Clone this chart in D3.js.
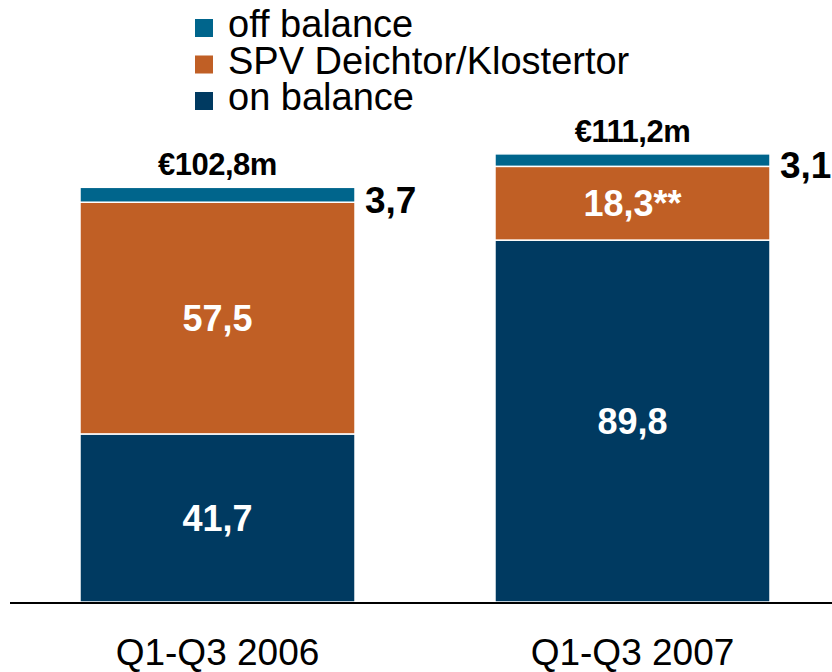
<!DOCTYPE html>
<html>
<head>
<meta charset="utf-8">
<script src="https://cdn.jsdelivr.net/npm/d3@7"></script>
<style>
  html, body { margin: 0; padding: 0; background: #fff; }
  svg { display: block; font-family: "Liberation Sans", Arial, sans-serif; }
</style>
</head>
<body>
<div id="chart"></div>
<script>
// data
const periods = ["Q1-Q3 2006", "Q1-Q3 2007"];
const onBalance = [41.7, 89.8];
const spv = [57.5, 18.3];
const offBalance = [3.7, 3.1];
const totalLabels = ["€102,8m", "€111,2m"];
const onLabels = ["41,7", "89,8"];
const spvLabels = ["57,5", "18,3**"];
const offLabels = ["3,7", "3,1"];
const seriesNames = ["off balance", "SPV Deichtor/Klostertor", "on balance"];
const seriesColors = ["#00658c", "#c05f25", "#003a61"];

const width = 832, height = 672;

const svg = d3.select("#chart")
  .append("svg")
  .attr("width", width)
  .attr("height", height);

const x = d3.scaleBand()
  .domain(periods)
  .range([80, 770])
  .paddingInner(0.3373)
  .paddingOuter(0);

const y = d3.scaleLinear()
  .domain([0, 100])
  .range([602, 199]);

const rows = periods.map((p, i) => ({
  period: p, on: onBalance[i], spv: spv[i], off: offBalance[i]
}));

const stack = d3.stack().keys(["on", "spv", "off"]);
const layers = stack(rows);
const colorOf = { on: seriesColors[2], spv: seriesColors[1], off: seriesColors[0] };

// bars
svg.selectAll(".layer")
  .data(layers)
  .join("g")
  .attr("class", "layer")
  .attr("fill", d => colorOf[d.key])
  .selectAll("rect")
  .data(d => d)
  .join("rect")
  .attr("x", d => x(d.data.period))
  .attr("width", x.bandwidth())
  .attr("y", d => y(d[1]))
  .attr("height", d => y(d[0]) - y(d[1]))
  .attr("stroke", "#fff")
  .attr("stroke-width", 1.5);

// labels inside segments
const inner = [
  { layer: layers[0], labels: onLabels },
  { layer: layers[1], labels: spvLabels }
];
inner.forEach(s => {
  svg.selectAll(null)
    .data(s.layer)
    .join("text")
    .attr("x", d => x(d.data.period) + x.bandwidth() / 2)
    .attr("y", d => (y(d[0]) + y(d[1])) / 2)
    .attr("dy", "0.36em")
    .attr("text-anchor", "middle")
    .attr("fill", "#fff")
    .style("font-size", "36px")
    .style("font-weight", "bold")
    .text((d, i) => s.labels[i]);
});

// off balance labels to the right
svg.selectAll(".off-label")
  .data(layers[2])
  .join("text")
  .attr("class", "off-label")
  .attr("x", d => x(d.data.period) + x.bandwidth() + 10)
  .attr("y", d => (y(d[0]) + y(d[1])) / 2 + 5)
  .attr("dy", "0.36em")
  .attr("fill", "#000")
  .style("font-size", "37px")
  .style("font-weight", "bold")
  .text((d, i) => offLabels[i]);

// totals on top
svg.selectAll(".total")
  .data(layers[2])
  .join("text")
  .attr("class", "total")
  .attr("x", d => x(d.data.period) + x.bandwidth() / 2)
  .attr("y", d => y(d[1]) - 12)
  .attr("text-anchor", "middle")
  .attr("fill", "#000")
  .style("font-size", "31px")
  .style("font-weight", "bold")
  .style("letter-spacing", "-0.5px")
  .text((d, i) => totalLabels[i]);

// baseline
svg.append("line")
  .attr("x1", 10)
  .attr("x2", width)
  .attr("y1", y(0) + 1)
  .attr("y2", y(0) + 1)
  .attr("stroke", "#000")
  .attr("stroke-width", 2);

// category labels
svg.selectAll(".cat")
  .data(periods)
  .join("text")
  .attr("class", "cat")
  .attr("x", d => x(d) + x.bandwidth() / 2)
  .attr("y", 665)
  .attr("text-anchor", "middle")
  .attr("fill", "#000")
  .style("font-size", "37px")
  .text(d => d);

// legend
const legend = svg.append("g").attr("transform", "translate(195,0)");
const item = legend.selectAll(".item")
  .data(seriesNames)
  .join("g")
  .attr("class", "item")
  .attr("transform", (d, i) => `translate(0,${37 + i * 36.5})`);
item.append("rect")
  .attr("x", 0)
  .attr("y", -18)
  .attr("width", 18)
  .attr("height", 18)
  .attr("fill", (d, i) => seriesColors[i]);
item.append("text")
  .attr("x", 33)
  .attr("y", 0)
  .attr("fill", "#000")
  .style("font-size", "38px")
  .text(d => d);
</script>
</body>
</html>
